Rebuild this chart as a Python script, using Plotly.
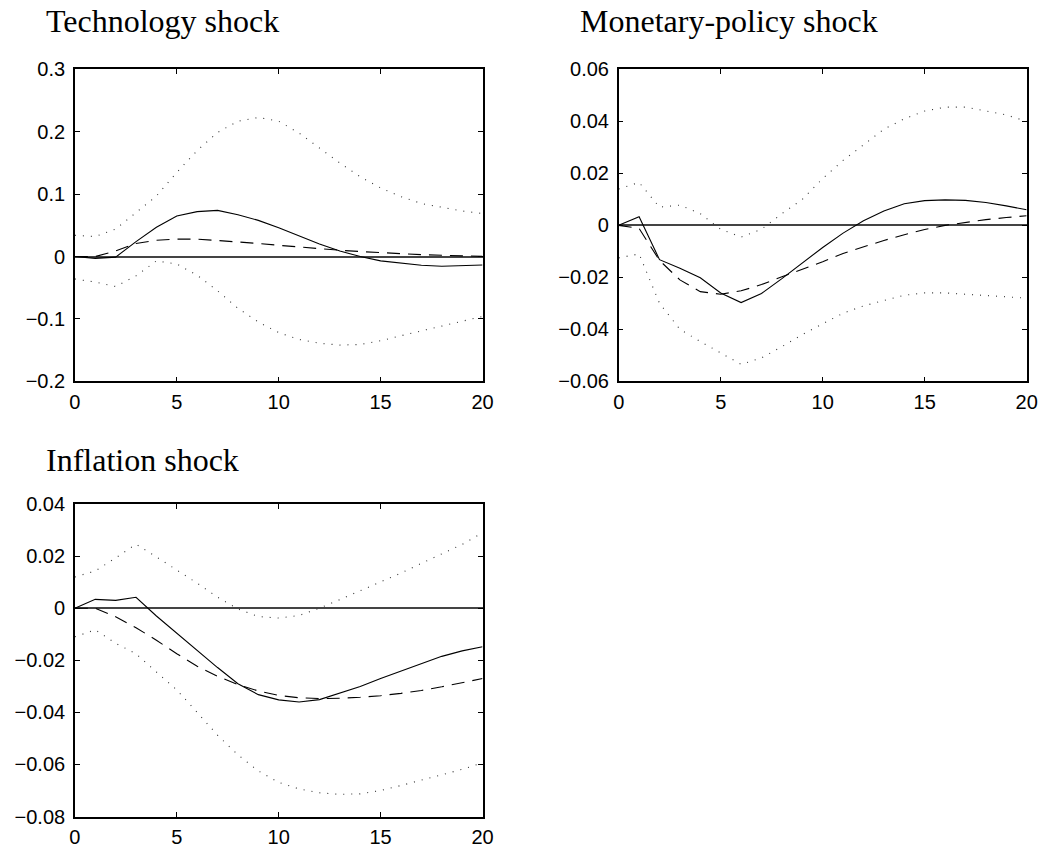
import plotly.graph_objects as go

periods = list(range(21))

# Technology shock
tech_solid = [0.0, -0.003, -0.001, 0.024, 0.047, 0.065, 0.072, 0.074, 0.067, 0.058, 0.046,
              0.033, 0.020, 0.009, 0.0, -0.007, -0.011, -0.014, -0.0155, -0.015, -0.0135]
tech_dashed = [0.0, 0.0, 0.009, 0.021, 0.026, 0.028, 0.028, 0.026, 0.024, 0.021, 0.018,
               0.015, 0.012, 0.010, 0.008, 0.006, 0.0045, 0.003, 0.002, 0.001, 0.0003]
tech_upper = [0.034, 0.032, 0.044, 0.070, 0.097, 0.135, 0.170, 0.199, 0.217, 0.223, 0.217,
              0.198, 0.174, 0.150, 0.128, 0.110, 0.096, 0.085, 0.079, 0.073, 0.069]
tech_lower = [-0.036, -0.041, -0.048, -0.031, -0.007, -0.012, -0.030, -0.055, -0.083, -0.105, -0.122,
              -0.133, -0.139, -0.142, -0.141, -0.135, -0.127, -0.119, -0.112, -0.104, -0.096]

# Monetary-policy shock
mon_solid = [0.0, 0.0033, -0.0132, -0.0165, -0.0202, -0.026, -0.0297, -0.0262, -0.0205, -0.0145, -0.0085,
             -0.003, 0.0018, 0.0055, 0.0083, 0.0095, 0.0098, 0.0096, 0.0088, 0.0075, 0.006]
mon_dashed = [0.0, -0.0012, -0.0135, -0.021, -0.0255, -0.0265, -0.0252, -0.0228, -0.0198, -0.017, -0.014,
              -0.0108, -0.0082, -0.0058, -0.0036, -0.0016, 0.0, 0.0012, 0.0022, 0.003, 0.0037]
mon_upper = [0.014, 0.0165, 0.007, 0.0078, 0.0045, -0.0015, -0.0045, -0.0015, 0.0045, 0.010, 0.018,
             0.025, 0.031, 0.037, 0.041, 0.044, 0.0455, 0.0455, 0.044, 0.0425, 0.040]
mon_lower = [-0.0125, -0.011, -0.030, -0.040, -0.0447, -0.049, -0.0535, -0.051, -0.0467, -0.042, -0.038,
             -0.0338, -0.031, -0.0288, -0.0269, -0.026, -0.026, -0.0265, -0.027, -0.0275, -0.028]

# Inflation shock
inf_solid = [0.0, 0.0034, 0.003, 0.0042, -0.003, -0.0097, -0.0163, -0.0228, -0.029, -0.0332, -0.0352,
             -0.036, -0.0351, -0.0326, -0.0301, -0.027, -0.0241, -0.0211, -0.0185, -0.0164, -0.0148]
inf_dashed = [0.0, 0.0, -0.0033, -0.0075, -0.0123, -0.0175, -0.0223, -0.0262, -0.0293, -0.0318, -0.0335,
              -0.0344, -0.0347, -0.0346, -0.0342, -0.0336, -0.0327, -0.0316, -0.0302, -0.0287, -0.027]
inf_upper = [0.012, 0.0143, 0.0193, 0.0246, 0.0197, 0.0148, 0.0096, 0.0042, -0.0003, -0.0032, -0.0038,
             -0.0028, 0.0, 0.0033, 0.0067, 0.010, 0.0135, 0.0172, 0.021, 0.0245, 0.029]
inf_lower = [-0.011, -0.0083, -0.0135, -0.0175, -0.0245, -0.0314, -0.040, -0.0488, -0.0563, -0.0625, -0.0669,
             -0.0694, -0.0709, -0.0715, -0.0713, -0.070, -0.0681, -0.066, -0.0638, -0.0619, -0.0594]

titles = ["Technology shock", "Monetary-policy shock", "Inflation shock"]
x_ticks = [0, 5, 10, 15, 20]
y_ranges = [[-0.2, 0.3], [-0.06, 0.06], [-0.08, 0.04]]
y_dticks = [0.1, 0.02, 0.02]

W, H = 1060, 858
panels = [
    dict(x0=70, x1=484.3, y0=60, y1=380),
    dict(x0=622.7, x1=1037.3, y0=60, y1=380),
    dict(x0=70, x1=484.3, y0=506, y1=826.7),
]
# (left x, y of the text-box top) of each panel title, in pixels
title_pos = [(40, -9), (582, -9), (40, 441)]

series = [
    (tech_solid, tech_dashed, tech_upper, tech_lower),
    (mon_solid, mon_dashed, mon_upper, mon_lower),
    (inf_solid, inf_dashed, inf_upper, inf_lower),
]

fig = go.Figure()
tick_font = dict(family="Liberation Sans, Arial, sans-serif", size=20, color="black")
TITLE_SIZE = 32

for i, (solid, dashed, upper, lower) in enumerate(series):
    n = i + 1
    xa = "x" if n == 1 else f"x{n}"
    ya = "y" if n == 1 else f"y{n}"
    for vals, dash, col in [
        (upper, "1px,7px", "#333"),
        (lower, "1px,7px", "#333"),
        (dashed, "13px,8px", "black"),
        (solid, "solid", "black"),
    ]:
        fig.add_trace(go.Scatter(x=periods, y=vals, mode="lines", xaxis=xa, yaxis=ya,
                                 line=dict(color=col, width=1.1, dash=dash),
                                 showlegend=False, hoverinfo="skip"))
    p = panels[i]
    axis_common = dict(showgrid=False, showline=True, linecolor="black", linewidth=1.5,
                       mirror="ticks", ticks="inside", ticklen=5, tickwidth=1, tickcolor="black",
                       tickfont=tick_font)
    fig.update_layout(**{
        ("xaxis" if n == 1 else f"xaxis{n}"): dict(
            domain=[p["x0"] / W, p["x1"] / W], anchor=ya, range=[0, 20],
            tickmode="array", tickvals=x_ticks, ticktext=[str(t) for t in x_ticks],
            zeroline=False, ticklabelstandoff=2, **axis_common),
        ("yaxis" if n == 1 else f"yaxis{n}"): dict(
            domain=[1 - p["y1"] / H, 1 - p["y0"] / H], anchor=xa, range=y_ranges[i],
            dtick=y_dticks[i], tick0=0, zeroline=True, zerolinecolor="#444", zerolinewidth=1.5,
            ticklabelstandoff=4, **axis_common),
    })
    tx, ty = title_pos[i]
    fig.add_annotation(text=titles[i], xref="paper", yref="paper", x=tx / W,
                       y=1 - ty / H,
                       xanchor="left", yanchor="top", showarrow=False, borderpad=0,
                       font=dict(family="Liberation Serif, Times New Roman, serif",
                                 size=TITLE_SIZE, color="black"))

fig.update_layout(width=W, height=H, margin=dict(l=0, r=0, t=0, b=0),
                  paper_bgcolor="white", plot_bgcolor="white")
fig.write_html("out.html")
